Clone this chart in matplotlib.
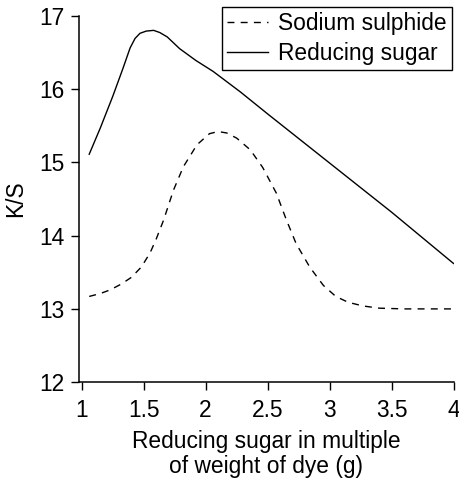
import matplotlib
matplotlib.use("Agg")
import matplotlib.pyplot as plt

plt.rcParams['font.family'] = ['Liberation Sans', 'DejaVu Sans']

# Reducing sugar series
sugar_x = [1.06, 1.15, 1.25, 1.33, 1.39, 1.43, 1.47, 1.52, 1.58, 1.63, 1.69,
           1.79, 1.92, 2.06, 2.28, 2.50, 3.00, 3.50, 4.00]
sugar_y = [15.11, 15.47, 15.90, 16.27, 16.56, 16.69, 16.76, 16.79, 16.80, 16.77, 16.71,
           16.55, 16.39, 16.24, 15.96, 15.66, 14.99, 14.32, 13.62]

# Sodium sulphide series
sulph_x = [1.06, 1.15, 1.23, 1.32, 1.40, 1.48, 1.55, 1.60, 1.66, 1.74, 1.82, 1.93,
           2.03, 2.10, 2.17, 2.25, 2.36, 2.46, 2.57, 2.65, 2.73, 2.84, 2.95, 3.05,
           3.15, 3.27, 3.40, 3.60, 3.80, 3.98]
sulph_y = [13.17, 13.21, 13.26, 13.34, 13.43, 13.57, 13.76, 13.95, 14.21, 14.62, 14.94, 15.24,
           15.39, 15.42, 15.40, 15.33, 15.17, 14.93, 14.58, 14.22, 13.89, 13.57, 13.32, 13.17,
           13.09, 13.04, 13.01, 13.00, 13.00, 13.00]

x_ticks = [1, 1.5, 2, 2.5, 3, 3.5, 4]
x_tick_labels = ["1", "1.5", "2", "2.5", "3", "3.5", "4"]
y_ticks = [12, 13, 14, 15, 16, 17]

FS = 16.4

fig = plt.figure(figsize=(4.59, 4.8), dpi=100)
ax = fig.add_axes([79.3 / 459, 1 - 382.2 / 480, (453.5 - 79.3) / 459, (382.2 - 15.7) / 480])

ax.plot(sulph_x, sulph_y, color='black', lw=1.0, dashes=(5, 4.5), label='Sodium sulphide')
ax.plot(sugar_x, sugar_y, color='black', lw=1.0, label='Reducing sugar')

ax.set_xlim(0.98, 4.0)
ax.set_ylim(12, 17)
ax.set_xticks(x_ticks)
ax.set_xticklabels(x_tick_labels)
ax.set_yticks(y_ticks)

for side in ('top', 'right'):
    ax.spines[side].set_visible(False)
for side in ('left', 'bottom'):
    ax.spines[side].set_linewidth(1.1)

ax.tick_params(axis='both', direction='out', length=6, width=1.0, labelsize=FS, color='black')
ax.tick_params(axis='x', pad=6)
ax.tick_params(axis='y', pad=5)

ax.set_ylabel('K/S', fontsize=FS)
ax.yaxis.set_label_coords(-0.14, 0.5)
ax.set_xlabel('Reducing sugar in multiple\nof weight of dye (g)', fontsize=FS, linespacing=1.12)
ax.xaxis.set_label_coords(0.5, -0.13)
ax.xaxis.label.set_va('top')

leg = ax.legend(loc='upper right', bbox_to_anchor=(452 / 459, 1 - 7 / 480),
                bbox_transform=fig.transFigure, fontsize=FS, frameon=True,
                fancybox=False, edgecolor='black', framealpha=1,
                borderaxespad=0, borderpad=0.22, handlelength=1.8,
                handletextpad=0.45, labelspacing=0.3)
leg.get_frame().set_linewidth(1.0)

fig.savefig('out.png', dpi=100)
